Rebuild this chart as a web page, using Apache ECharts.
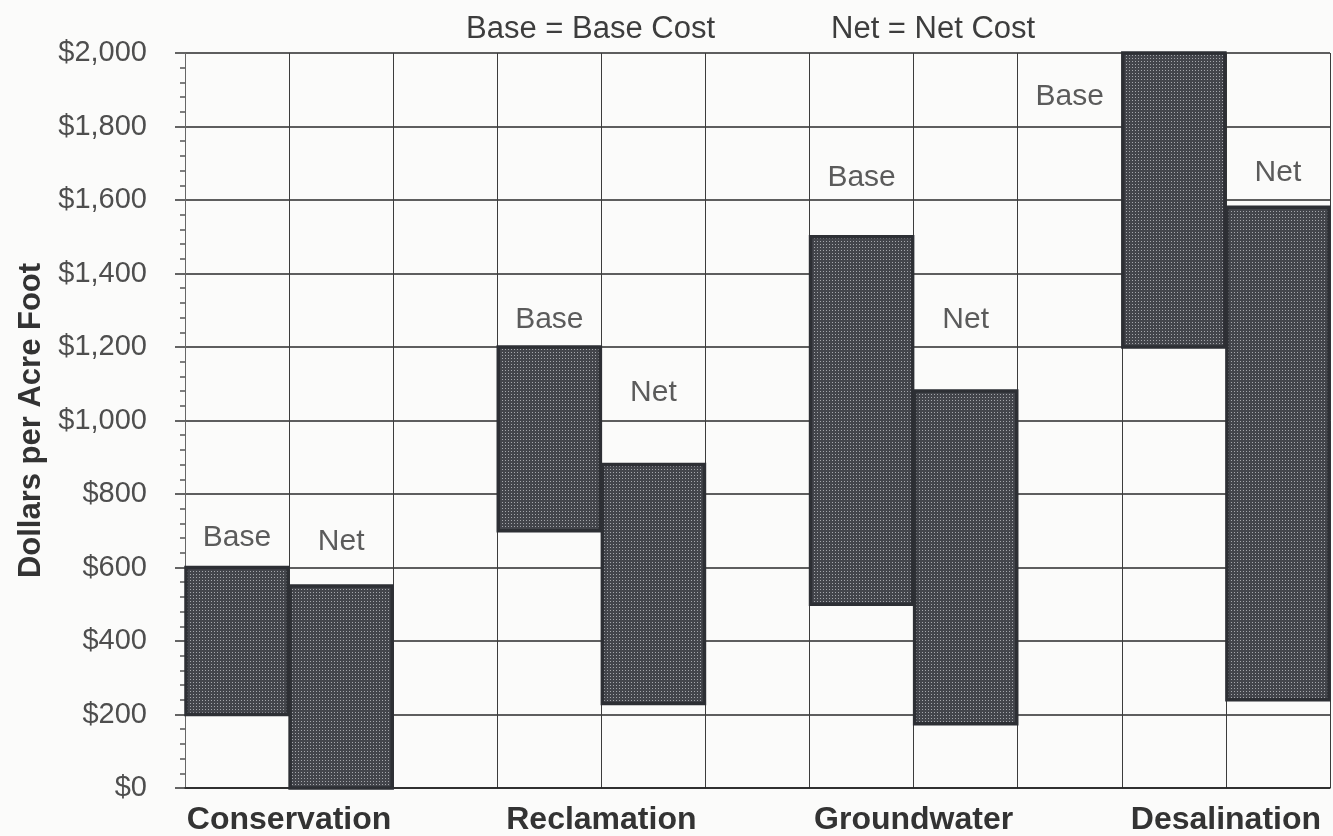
<!DOCTYPE html>
<html>
<head>
<meta charset="utf-8">
<title>Cost ranges per acre foot</title>
<script src="https://cdn.jsdelivr.net/npm/echarts@6/dist/echarts.min.js"></script>
<style>
  html, body { margin: 0; padding: 0; background: #fbfbfa; }
  #chart { width: 1333px; height: 836px; }
</style>
</head>
<body>
<div id="chart"></div>
<script>
// Water supply options, two floating bars each (base and net cost range)
const groups   = ['Conservation', 'Reclamation', 'Groundwater', 'Desalination'];
const baseLow  = [200, 700, 500, 1200];
const baseHigh = [600, 1200, 1500, 2000];
const netLow   = [0, 230, 175, 240];
const netHigh  = [550, 880, 1080, 1580];

// Bar captions: [column centre, dollar level, text]
const captionCols   = [0.5, 1.5, 3.5, 4.5, 6.5, 7.5, 8.5, 10.5];
const captionLevels = [680, 670, 1275, 1075, 1660, 1275, 1880, 1675];
const captionTexts  = ['Base', 'Net', 'Base', 'Net', 'Base', 'Net', 'Base', 'Net'];

const yTicks = { min: 0, max: 2000, step: 200 };
const columnCount = 11;

// Fine halftone fill for the bars
function halftone() {
  const c = document.createElement('canvas');
  c.width = 3; c.height = 3;
  const g = c.getContext('2d');
  g.fillStyle = '#43454b';
  g.fillRect(0, 0, 3, 3);
  g.fillStyle = '#a4a6ab';
  g.fillRect(1, 1, 1, 1);
  return c;
}
const fillPattern = { image: halftone(), repeat: 'repeat' };

// Each group occupies three columns: base, net, then an empty spacer
const ranges = [];
groups.forEach((g, i) => {
  ranges.push([3 * i, baseLow[i], baseHigh[i]]);
  ranges.push([3 * i + 1, netLow[i], netHigh[i]]);
});

const captions = captionCols.map((c, i) => [c, captionLevels[i], captionTexts[i]]);

const font = '"Liberation Sans", Arial, Helvetica, sans-serif';

const chart = echarts.init(document.getElementById('chart'), null, { renderer: 'canvas' });
chart.setOption({
  backgroundColor: '#fbfbfa',
  animation: false,
  grid: { left: 185, right: 0, top: 53, bottom: 47, containLabel: false },
  graphic: [
    { type: 'text', left: 466, top: 14,
      style: { text: 'Base = Base Cost', font: '31px ' + font, fill: '#3d3d3d' } },
    { type: 'text', left: 831, top: 14,
      style: { text: 'Net = Net Cost', font: '31px ' + font, fill: '#3d3d3d' } }
  ],
  xAxis: {
    type: 'value',
    min: 0, max: columnCount, interval: 1,
    axisLine: { show: true, onZero: false, lineStyle: { color: '#222', width: 1.5 } },
    axisTick: { show: false },
    splitLine: { show: true, lineStyle: { color: '#3c3c3c', width: 1 } },
    axisLabel: {
      show: true, margin: 16,
      fontFamily: font, fontSize: 32, fontWeight: 'bold', color: '#333',
      showMinLabel: true, showMaxLabel: true,
      formatter: v => {
        const i = (v - 1) / 3;
        return Number.isInteger(i) && groups[i] ? groups[i] : '';
      }
    }
  },
  yAxis: {
    type: 'value',
    min: yTicks.min, max: yTicks.max, interval: yTicks.step,
    name: 'Dollars per Acre Foot',
    nameLocation: 'middle', nameGap: 122, nameRotate: 90,
    nameTextStyle: { fontFamily: font, fontSize: 31, fontWeight: 'bold', color: '#333' },
    axisLine: { show: true, lineStyle: { color: '#666', width: 1 } },
    axisTick: { show: true, inside: false, length: 10, lineStyle: { color: '#333', width: 1.5 } },
    minorTick: { show: true, splitNumber: 5, length: 5, lineStyle: { color: '#555', width: 1.5 } },
    splitLine: { show: true, lineStyle: { color: '#2a2a2a', width: 1.5 } },
    axisLabel: {
      margin: 38,
      fontFamily: font, fontSize: 29, color: '#4e4e4e',
      formatter: v => '$' + v.toLocaleString('en-US')
    }
  },
  series: [
    {
      type: 'custom',
      data: ranges,
      encode: { x: 0, y: [1, 2] },
      clip: false,
      renderItem: (params, api) => {
        const col = api.value(0);
        const p1 = api.coord([col, api.value(2)]);
        const p2 = api.coord([col + 1, api.value(1)]);
        return {
          type: 'rect',
          shape: { x: p1[0] + 1, y: p1[1], width: p2[0] - p1[0] - 2, height: p2[1] - p1[1] },
          style: { fill: fillPattern, stroke: '#2d2f34', lineWidth: 3.5 }
        };
      },
      z: 3
    },
    {
      type: 'scatter',
      data: captions,
      symbolSize: 0,
      silent: true,
      label: {
        show: true, position: 'inside',
        formatter: p => p.value[2],
        fontFamily: font, fontSize: 30, color: '#333'
      },
      z: 4
    }
  ]
});
</script>
</body>
</html>
